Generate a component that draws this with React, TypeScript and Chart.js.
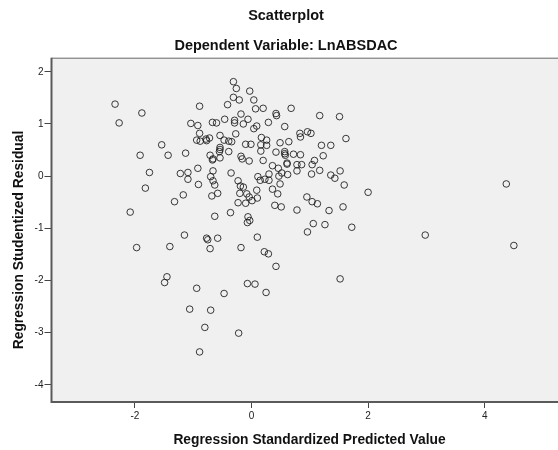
import React, { useEffect, useRef } from "react";
import { Chart, registerables } from "chart.js";

Chart.register(...registerables);

// Regression standardized predicted values (x) and studentized residuals (y)
const predicted = [
  -2.34, -2.27, -1.88, -1.54, -1.91, -1.43, -1.13, -1.75, -1.82, -2.08,
  -1.32, -1.17, -1.22, -1.09, -1.09, -0.92, -0.91, -0.89, -1.04, -0.92,
  -0.89, -0.94, -0.88, -0.78, -0.72, -0.77, -0.67, -0.60, -0.54, -0.54,
  -0.54, -0.55, -0.71, -0.66, -0.67, -0.66, -0.70, -0.66, -0.63, -0.58,
  -0.68, -0.63, -1.15, -0.77, -0.75, -0.58, -0.31, -0.26, -0.03, -0.31,
  -0.21, -0.41, 0.04, 0.07, 0.20, 0.42, 0.43, 0.68, 1.17, 1.51,
  -0.18, -0.46, -0.29, -0.29, -0.14, -0.06, 0.09, 0.04, 0.29, 0.57,
  0.83, 0.84, 0.96, 1.02, 1.62, -0.27, -0.47, -0.39, -0.34, 0.17,
  0.26, 0.16, 0.26, -0.10, -0.01, 0.49, 0.64, 1.20, 1.36, -0.39,
  0.16, 0.42, 0.57, 0.57, 0.58, 0.72, 0.84, 1.23, -0.54, -0.18,
  -0.16, -0.04, 0.20, 0.61, 0.61, 0.78, 0.86, 1.04, 1.08, 0.36,
  0.46, 0.52, 0.47, 0.62, 0.78, 1.03, 1.17, 1.52, 1.36, 1.43,
  1.59, 2.00, -0.35, -0.23, -0.19, -0.14, -0.20, -0.08, -0.04, -0.23,
  -0.10, 0.01, 0.10, 0.09, 0.11, 0.15, 0.23, 0.30, 0.30, 0.49,
  0.36, 0.45, 0.40, 0.51, 0.78, 0.95, 1.04, 1.13, 1.57, 1.33,
  -0.36, -0.06, -0.03, -0.07, 1.06, 1.26, 1.72, 0.96, 0.10, 2.98,
  4.37, 4.50, -1.97, -1.40, -0.71, -1.45, -1.49, -0.94, -1.06, -0.70,
  -0.80, -0.89, -0.18, 0.22, 0.29, 0.42, -0.07, 0.06, 0.25, -0.47,
  -0.22, 1.52,
];

const residual = [
  1.38, 1.02, 1.21, 0.60, 0.40, 0.40, 0.44, 0.07, -0.23, -0.69,
  -0.49, -0.36, 0.05, 0.07, -0.06, 0.15, -0.16, 1.34, 1.01, 0.97,
  0.82, 0.69, 0.67, 0.71, 0.73, 0.68, 1.03, 1.02, 0.78, 0.55,
  0.51, 0.47, 0.40, 0.33, 0.31, 0.10, -0.01, -0.09, -0.17, -0.33,
  -0.38, -0.77, -1.13, -1.19, -1.22, -1.19, 1.81, 1.68, 1.63, 1.51,
  1.46, 1.37, 1.46, 1.29, 1.30, 1.20, 1.16, 1.30, 1.16, 1.14,
  1.19, 1.09, 1.07, 1.02, 1.00, 1.09, 0.96, 0.91, 1.03, 0.95,
  0.82, 0.75, 0.85, 0.82, 0.72, 0.81, 0.69, 0.67, 0.66, 0.74,
  0.69, 0.60, 0.59, 0.61, 0.61, 0.64, 0.66, 0.59, 0.59, 0.47,
  0.48, 0.46, 0.47, 0.43, 0.40, 0.42, 0.41, 0.39, 0.35, 0.38,
  0.33, 0.29, 0.30, 0.25, 0.23, 0.22, 0.22, 0.22, 0.30, 0.20,
  0.15, 0.06, 0.00, 0.03, 0.10, 0.04, 0.11, 0.10, 0.02, -0.04,
  -0.17, -0.31, 0.06, -0.09, -0.19, -0.21, -0.33, -0.34, -0.40, -0.51,
  -0.52, -0.47, -0.42, -0.27, -0.01, -0.08, -0.06, 0.04, -0.08, -0.15,
  -0.25, -0.34, -0.56, -0.59, -0.65, -0.40, -0.49, -0.53, -0.59, -0.66,
  -0.70, -0.78, -0.85, -0.89, -0.91, -0.93, -0.98, -1.07, -1.17, -1.13,
  -0.15, -1.33, -1.37, -1.35, -1.39, -1.93, -2.04, -2.15, -2.55, -2.57,
  -2.90, -3.37, -1.37, -1.45, -1.49, -1.73, -2.06, -2.07, -2.23, -2.25,
  -3.01, -1.97,
];

const xTicks = [-2, 0, 2, 4];
const yTicks = [2, 1, 0, -1, -2, -3, -4];

const chartTitle = "Scatterplot";
const chartSubtitle = "Dependent Variable: LnABSDAC";
const xTitle = "Regression Standardized Predicted Value";
const yTitle = "Regression Studentized Residual";

const FONT = "'Liberation Sans', Arial, sans-serif";
const CANVAS_W = 572;
const CANVAS_H = 450;

const framePlugin = {
  id: "spssFrame",
  beforeDatasetsDraw(chart: any) {
    const { ctx, chartArea: a } = chart;
    ctx.save();
    ctx.fillStyle = "#f0f0f0";
    ctx.fillRect(a.left, a.top, a.right - a.left, a.bottom - a.top);
    ctx.restore();
  },
  afterDraw(chart: any) {
    const { ctx, chartArea: a } = chart;
    ctx.save();
    ctx.strokeStyle = "#6a6a6a";
    ctx.lineWidth = 1;
    ctx.beginPath();
    ctx.moveTo(a.left, a.top + 0.5);
    ctx.lineTo(a.right, a.top + 0.5);
    ctx.moveTo(a.right - 0.5, a.top);
    ctx.lineTo(a.right - 0.5, a.bottom);
    ctx.stroke();
    ctx.strokeStyle = "#5a5a5a";
    ctx.lineWidth = 2;
    ctx.beginPath();
    ctx.moveTo(a.left, a.top);
    ctx.lineTo(a.left, a.bottom);
    ctx.lineTo(a.right, a.bottom);
    ctx.stroke();

    ctx.fillStyle = "#111";
    ctx.textAlign = "center";
    ctx.textBaseline = "middle";
    ctx.font = `bold 14.5px ${FONT}`;
    ctx.fillText(chartTitle, CANVAS_W / 2, 16);
    ctx.fillText(chartSubtitle, CANVAS_W / 2, 45.5);
    ctx.font = `bold 13.8px ${FONT}`;
    ctx.fillText(xTitle, (a.left + a.right) / 2, 440.5);
    ctx.translate(19.5, 240);
    ctx.rotate(-Math.PI / 2);
    ctx.fillText(yTitle, 0, 0);
    ctx.restore();
  },
};

export default function App() {
  const canvasRef = useRef<HTMLCanvasElement | null>(null);

  useEffect(() => {
    document.body.style.margin = "0";
    const canvas = canvasRef.current;
    if (!canvas) return;
    const points = predicted.map((x, i) => ({ x, y: residual[i] }));
    const chart = new Chart(canvas, {
      type: "scatter",
      data: {
        datasets: [
          {
            data: points,
            pointRadius: 3.3,
            pointHoverRadius: 3.3,
            borderWidth: 1,
            pointBorderColor: "rgba(25,25,25,0.85)",
            pointBackgroundColor: "rgba(0,0,0,0)",
          },
        ],
      },
      options: {
        responsive: false,
        animation: false,
        events: [],
        layout: { padding: { left: 0, top: 57.7, right: CANVAS_W - 567.5, bottom: 0 } },
        plugins: {
          legend: { display: false },
          tooltip: { enabled: false },
          title: { display: false },
        },
        scales: {
          x: {
            type: "linear",
            min: -3.43,
            max: 5.42,
            afterBuildTicks: (scale: any) => {
              scale.ticks = xTicks.map((v) => ({ value: v }));
            },
            afterFit: (scale: any) => {
              scale.height = CANVAS_H - 402;
            },
            border: { display: false },
            grid: {
              drawOnChartArea: false,
              drawTicks: true,
              tickLength: 6,
              color: "#444",
              lineWidth: 1,
            },
            ticks: {
              color: "#222",
              font: { family: FONT, size: 10 },
              padding: 2,
              maxRotation: 0,
            },
          },
          y: {
            type: "linear",
            min: -4.33,
            max: 2.27,
            afterBuildTicks: (scale: any) => {
              scale.ticks = yTicks.map((v) => ({ value: v }));
            },
            afterFit: (scale: any) => {
              scale.width = 51.5;
            },
            border: { display: false },
            grid: {
              drawOnChartArea: false,
              drawTicks: true,
              tickLength: 7,
              color: "#444",
              lineWidth: 1,
            },
            ticks: {
              color: "#222",
              font: { family: FONT, size: 10 },
              padding: 1,
            },
          },
        },
      },
      plugins: [framePlugin],
    });
    return () => chart.destroy();
  }, []);

  return (
    <div style={{ width: 558, height: CANVAS_H, overflow: "hidden", position: "relative" }}>
      <canvas
        ref={canvasRef}
        width={CANVAS_W}
        height={CANVAS_H}
        style={{ width: CANVAS_W, height: CANVAS_H, display: "block" }}
      />
    </div>
  );
}
